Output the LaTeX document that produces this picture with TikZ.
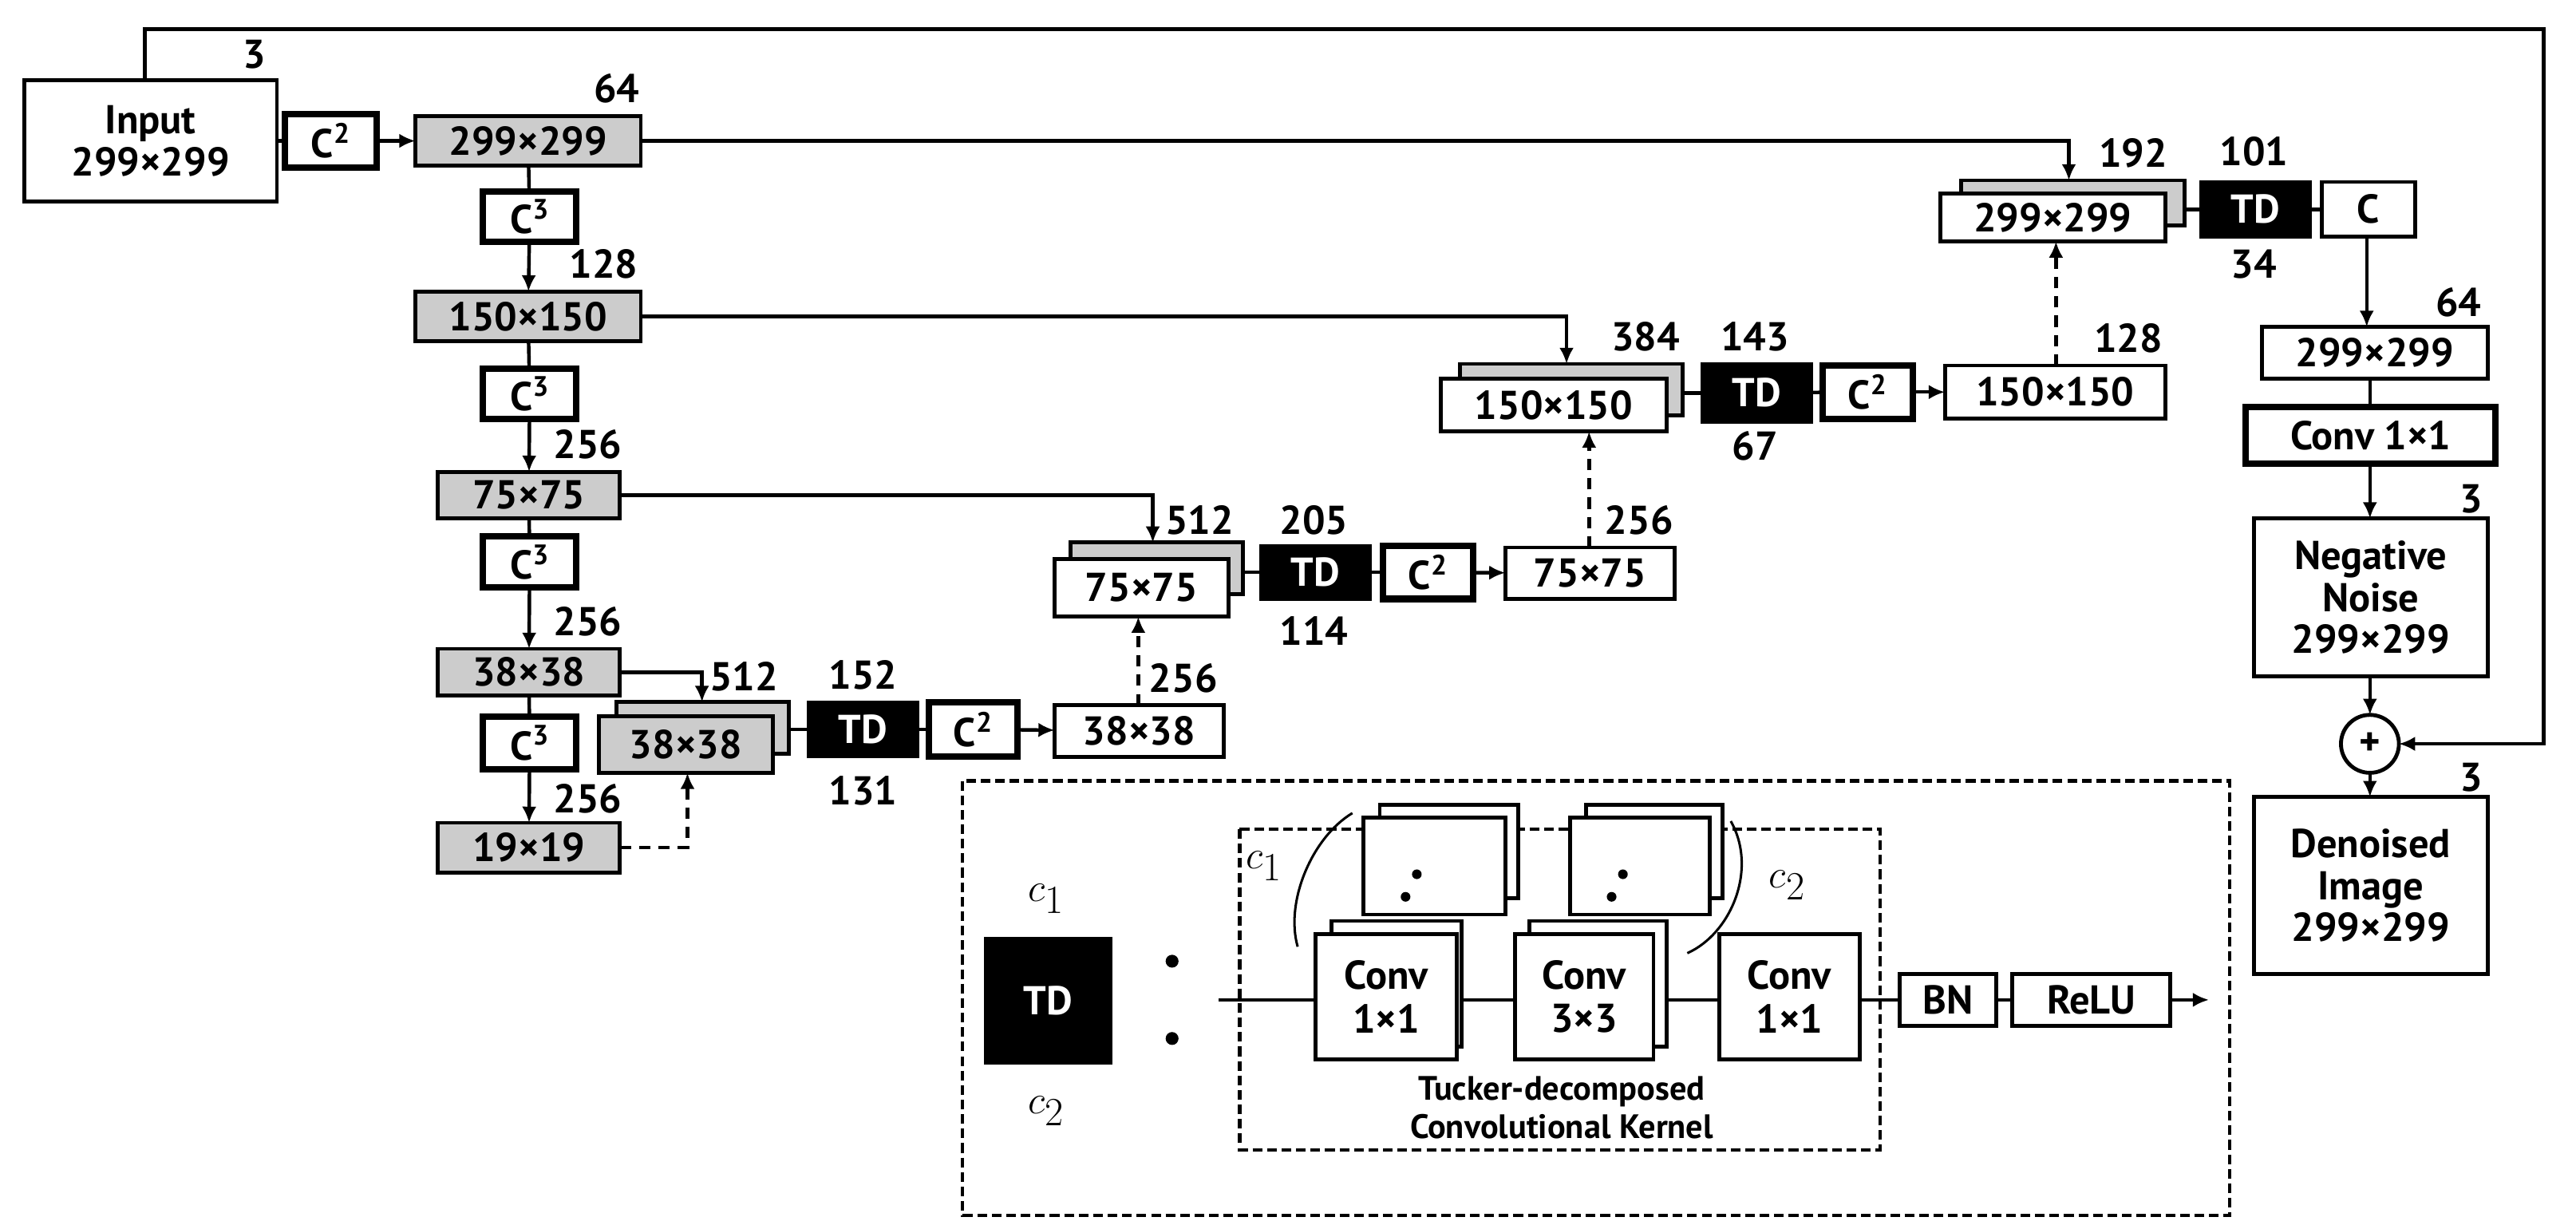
\documentclass[tikz,border=0pt]{standalone}
\usepackage{fontspec}
\setmainfont{PT Sans}
\usetikzlibrary{arrows.meta}
\newcommand{\bx}[7]{\node[#6, minimum width={(#4-#2)*1pt}, minimum height={(#5-#3)*1pt}] (#1) at ({(#2+#4)/2},{(#3+#5)/2}) {#7};}
\begin{document}
\begin{tikzpicture}[x=1pt,y=-1pt,
  every node/.style={font=\bfseries\fontsize{25}{26}\selectfont, inner sep=0pt, outer sep=0pt},
  box/.style={draw, line width=2.4pt, fill=white, align=center},
  gbox/.style={box, fill=black!20},
  tbox/.style={box, line width=4pt},
  td/.style={draw, fill=black, text=white, line width=2pt},
  mlab/.style={font=\fontsize{34}{36}\selectfont},
  ln/.style={line width=2.2pt},
  ar/.style={ln, -{Latex[length=10pt,width=9pt]}},
  dar/.style={ar, dash pattern=on 7pt off 5pt},
  dbox/.style={draw, line width=2pt, dash pattern=on 6pt off 3pt}]
\useasboundingbox (0,0) rectangle (1600,758);
% left column
\bx{in}{15}{50}{172}{125}{box}{Input\\299×299}
\node (l3) at (158,34) {3};
\bx{c0}{177}{71}{234}{104}{tbox}{C\textsuperscript{2}}
\bx{a1}{258}{72}{398}{103}{gbox}{299×299}
\node at (383,55) {64};
\bx{c1}{300}{119}{358}{150}{tbox}{C\textsuperscript{3}}
\bx{a2}{258}{181}{398}{212}{gbox}{150×150}
\node at (375,164) {128};
\bx{c2}{300}{229}{358}{260}{tbox}{C\textsuperscript{3}}
\bx{a3}{272}{293}{385}{322}{gbox}{75×75}
\node at (365,276) {256};
\bx{c3}{300}{333}{358}{365}{tbox}{C\textsuperscript{3}}
\bx{a4}{272}{403}{385}{432}{gbox}{38×38}
\node at (365,386) {256};
\bx{c4}{300}{445}{358}{478}{tbox}{C\textsuperscript{3}}
\bx{a5}{272}{511}{385}{542}{gbox}{19×19}
\node at (365,496) {256};
\draw[ln] (in) -- (c0);
\draw[ar] (c0) -- (a1);
\draw[ln] (a1) -- (c1); \draw[ar] (c1) -- (a2);
\draw[ln] (a2) -- (c2); \draw[ar] (c2) -- (a3);
\draw[ln] (a3) -- (c3); \draw[ar] (c3) -- (a4);
\draw[ln] (a4) -- (c4); \draw[ar] (c4) -- (a5);
% level 38
\bx{s4b}{383}{436}{490}{468}{gbox}{}
\bx{s4}{372}{445}{480}{480}{gbox}{38×38}
\node at (462,420) {512};
\bx{t4}{502}{436}{570}{470}{td}{TD}
\node at (536,419) {152}; \node at (536,491) {131};
\bx{k4}{577}{436}{632}{470}{tbox}{C\textsuperscript{2}}
\bx{u4}{655}{438}{760}{470}{box}{38×38}
\node at (735,421) {256};
\draw[ln] (s4b.east|-t4) -- (t4); \draw[ln] (t4) -- (k4); \draw[ar] (k4) -- (u4);
\draw[ar] (a4.east) -| (s4b.north-|436,0);
\draw[dar] (a5.east) -| (s4.south-|427,0);
% level 75
\bx{s3b}{665}{337}{772}{369}{gbox}{}
\bx{s3}{655}{347}{763}{383}{box}{75×75}
\node at (745,323) {512};
\bx{t3}{783}{339}{851}{372}{td}{TD}
\node at (816,323) {205}; \node at (816,392) {114};
\bx{k3}{859}{339}{915}{372}{tbox}{C\textsuperscript{2}}
\bx{u3}{935}{340}{1040}{372}{box}{75×75}
\node at (1018,323) {256};
\draw[ln] (s3b.east|-t3) -- (t3); \draw[ln] (t3) -- (k3); \draw[ar] (k3) -- (u3);
\draw[ar] (a3.east) -| (s3b.north-|716,0);
\draw[dar] (u4.north-|707,0) -- (s3.south-|707,0);
% level 150
\bx{s2b}{907}{226}{1045}{258}{gbox}{}
\bx{s2}{895}{235}{1035}{268}{box}{150×150}
\node at (1022,209) {384};
\bx{t2}{1057}{226}{1125}{262}{td}{TD}
\node at (1090,209) {143}; \node at (1090,277) {67};
\bx{k2}{1132}{227}{1188}{260}{tbox}{C\textsuperscript{2}}
\bx{u2}{1208}{227}{1345}{260}{box}{150×150}
\node at (1322,210) {128};
\draw[ln] (s2b.east|-t2) -- (t2); \draw[ln] (t2) -- (k2); \draw[ar] (k2) -- (u2);
\draw[ar] (a2.east) -| (s2b.north-|973,0);
\draw[dar] (u3.north-|987,0) -- (s2.south-|987,0);
% level 299
\bx{s1b}{1218}{112}{1357}{140}{gbox}{}
\bx{s1}{1205}{120}{1345}{150}{box}{299×299}
\node at (1325,95) {192};
\bx{t1}{1367}{113}{1435}{147}{td}{TD}
\node at (1400,94) {101}; \node at (1400,164) {34};
\bx{k1}{1442}{113}{1500}{147}{box}{C}
\draw[ln] (s1b.east|-t1) -- (t1); \draw[ln] (t1) -- (k1);
\draw[ar] (a1.east) -| (s1b.north-|1285,0);
\draw[dar] (u2.north-|1277,0) -- (s1.south-|1277,0);
% right column
\bx{r1}{1405}{203}{1545}{235}{box}{299×299}
\node at (1527,188) {64};
\bx{cv}{1395}{253}{1550}{288}{tbox}{Conv 1×1}
\bx{nn}{1400}{322}{1545}{420}{box}{Negative\\Noise\\299×299}
\node at (1535,310) {3};
\node[draw, circle, line width=2.4pt, minimum size=36pt] (pl) at (1472,462) {+};
\bx{dn}{1400}{495}{1545}{605}{box}{Denoised\\Image\\299×299}
\node at (1535,483) {3};
\draw[ar] (k1.south-|1470,0) -- (r1.north-|1470,0);
\draw[ln] (r1.south-|1472,0) -- (cv.north-|1472,0);
\draw[ar] (cv.south-|1472,0) -- (nn.north-|1472,0);
\draw[ar] (nn.south-|1472,0) -- (pl);
\draw[ar] (pl) -- (dn.north-|1472,0);
\coordinate (tl) at (90,18); \coordinate (tr) at (1580,18);
\draw[ar] (in.north-|90,0) -- (tl) -- (tr) |- (pl.east);
% legend
\draw[dbox] (598,485) rectangle (1385,755);
\draw[dbox] (770,515) rectangle (1168,714);
\bx{ltd}{612}{583}{690}{660}{td}{TD}
\node[mlab] at (650,558) {$c_1$}; \node[mlab] at (650,690) {$c_2$};
\fill (728,597) circle (4pt); \fill (728,645) circle (4pt);
% upper frames
\bx{f1b}{857}{500}{943}{558}{box}{}
\bx{f1}{847}{508}{935}{568}{box}{}
\fill (873,557) circle (3pt); \fill (880,543) circle (3pt);
\bx{f2b}{985}{500}{1070}{558}{box}{}
\bx{f2}{975}{508}{1062}{568}{box}{}
\fill (1001,557) circle (3pt); \fill (1008,543) circle (3pt);
% conv row
\coordinate (ls) at (757,621);
\bx{v1b}{827}{572}{908}{650}{box}{}
\bx{v1}{817}{580}{905}{658}{box}{Conv\\[1pt]1×1}
\bx{v2b}{950}{572}{1035}{650}{box}{}
\bx{v2}{941}{580}{1027}{658}{box}{Conv\\[1pt]3×3}
\bx{v3}{1068}{580}{1155}{658}{box}{Conv\\[1pt]1×1}
\bx{bn}{1180}{605}{1240}{637}{box}{BN}
\bx{rl}{1250}{605}{1348}{637}{box}{ReLU}
\coordinate (le) at (1372,621);
\draw[ln] (ls) -- (ls-|v1.west);
\draw[ln] (v1b.east|-ls) -- (ls-|v2.west);
\draw[ln] (v2b.east|-ls) -- (ls-|v3.west);
\draw[ln] (v3.east|-ls) -- (ls-|bn.west); \draw[ln] (bn) -- (rl);
\draw[ar] (rl) -- (le);
\node[mlab] at (785,538) {$c_1$};
\draw[line width=1.5pt] (806,588) .. controls (798,560) and (815,520) .. (840,505);
\node[mlab] at (1110,550) {$c_2$};
\draw[line width=1.5pt] (1075,510) .. controls (1092,540) and (1075,580) .. (1048,592);
\node[align=center, font=\bfseries\fontsize{21}{24}\selectfont] at (970,688) {Tucker-decomposed\\Convolutional Kernel};
\end{tikzpicture}
\end{document}
